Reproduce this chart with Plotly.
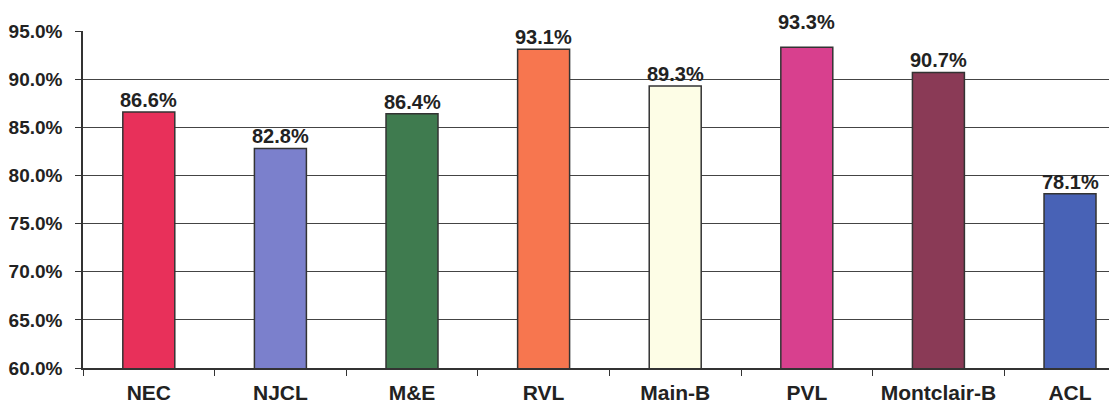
import plotly.graph_objects as go

categories = ["NEC", "NJCL", "M&E", "RVL", "Main-B", "PVL", "Montclair-B", "ACL"]
values = [0.866, 0.828, 0.864, 0.931, 0.893, 0.933, 0.907, 0.781]
colors = ["#E8305A", "#7B80CC", "#3F7B4F", "#F7764F", "#FDFDE6", "#D8408E", "#8A3A56", "#4862B6"]
label_shift = [12, 12, 12, 12, 12, 25, 12, 12]

FONT = "Liberation Sans, Arial"

fig = go.Figure()
fig.add_trace(go.Bar(
    x=categories, y=values,
    marker=dict(color=colors, line=dict(color="#333333", width=1.5)),
    width=0.395,
))

for c, v, s in zip(categories, values, label_shift):
    fig.add_annotation(x=c, y=v, text=f"<b>{v*100:.1f}%</b>", showarrow=False,
                       yshift=s, yanchor="middle",
                       font=dict(family=FONT, size=20, color="#222222"))

# page body has an 8px margin, so offsets account for it
fig.update_layout(
    width=1117, height=407,
    margin=dict(l=75, r=8, t=23, b=47),
    plot_bgcolor="white", paper_bgcolor="white",
    showlegend=False,
    font=dict(family=FONT, color="#222222"),
)
fig.update_xaxes(
    range=[-0.5, 7.357],
    showline=True, linecolor="#333333", linewidth=1.5,
    ticks="outside", tickson="boundaries", ticklen=6, tickcolor="#333333",
    tickfont=dict(size=21, family=FONT, color="#222222"),
    tickprefix="<b>", ticksuffix="</b>",
    ticklabelstandoff=5,
    showgrid=False, automargin=False,
)
fig.update_yaxes(
    range=[0.60, 0.95], dtick=0.05, tickformat=".1%",
    showline=True, linecolor="#333333", linewidth=1.5,
    ticks="outside", ticklen=6, tickcolor="#333333",
    showgrid=True, gridcolor="#444444", gridwidth=1,
    tickfont=dict(size=19, family=FONT, color="#222222"),
    tickprefix="<b>", ticksuffix="</b>",
    ticklabelstandoff=9,
    zeroline=False, automargin=False,
)

fig.write_html("out.html")
